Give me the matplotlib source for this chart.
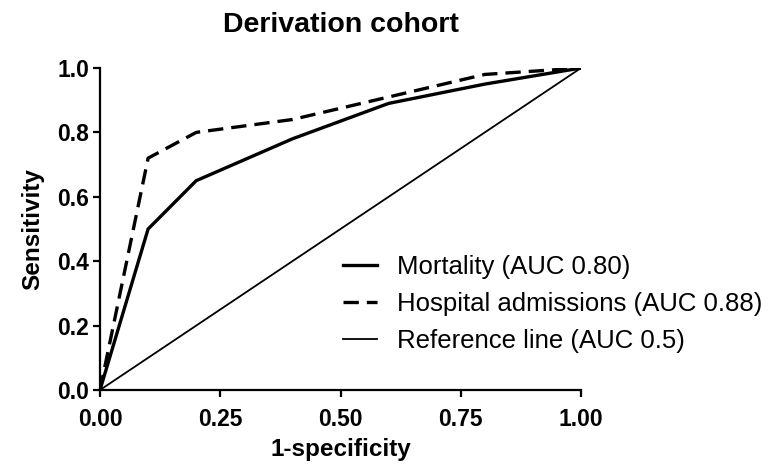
import matplotlib
matplotlib.use("Agg")
import matplotlib.pyplot as plt

plt.rcParams['font.family'] = ['Liberation Sans', 'DejaVu Sans']

fpr = [0.0, 0.1, 0.2, 0.4, 0.6, 0.8, 1.0]
mortality = [0.0, 0.50, 0.65, 0.78, 0.89, 0.95, 1.0]
hospital = [0.0, 0.72, 0.80, 0.84, 0.91, 0.98, 1.0]
ref_x = [0.0, 1.0]
ref_y = [0.0, 1.0]

labels = ["Mortality (AUC 0.80)", "Hospital admissions (AUC 0.88)", "Reference line (AUC 0.5)"]
xticks = [0.0, 0.25, 0.5, 0.75, 1.0]
xticklabels = ["0.00", "0.25", "0.50", "0.75", "1.00"]
yticks = [0.0, 0.2, 0.4, 0.6, 0.8, 1.0]
yticklabels = ["0.0", "0.2", "0.4", "0.6", "0.8", "1.0"]

fig = plt.figure(figsize=(7.7, 4.7), dpi=100)
ax = fig.add_axes([100/770, 80/470, 481/770, 322/470])

l1, = ax.plot(fpr, mortality, color='black', lw=2.4, solid_joinstyle='miter')
l2, = ax.plot(fpr, hospital, color='black', lw=2.4, dashes=(4.6, 2.4))
l3, = ax.plot(ref_x, ref_y, color='black', lw=1.3)

ax.set_xlim(0, 1)
ax.set_ylim(0, 1)
ax.set_xticks(xticks)
ax.set_xticklabels(xticklabels)
ax.set_yticks(yticks)
ax.set_yticklabels(yticklabels)
for s in ['top', 'right']:
    ax.spines[s].set_visible(False)
for s in ['left', 'bottom']:
    ax.spines[s].set_linewidth(1.6)
ax.tick_params(direction='out', length=5, width=1.6, labelsize=16.5)
ax.tick_params(axis='x', pad=8)
ax.tick_params(axis='y', pad=3)
for t in ax.get_xticklabels() + ax.get_yticklabels():
    t.set_fontweight('bold')

ax.set_xlabel("1-specificity", fontsize=17.5, fontweight='bold', labelpad=5)
ax.set_ylabel("Sensitivity", fontsize=17.5, fontweight='bold', labelpad=9)
ax.set_title("Derivation cohort", fontsize=20.5, fontweight='bold', pad=26)

fig.legend([l1, l2, l3], labels, loc='upper left', bbox_to_anchor=(343/770, 1 - 255/470),
           frameon=False, fontsize=18.5, handlelength=1.32, handletextpad=0.8,
           labelspacing=0.5, borderpad=0, borderaxespad=0)

fig.savefig("out.png", dpi=100)
